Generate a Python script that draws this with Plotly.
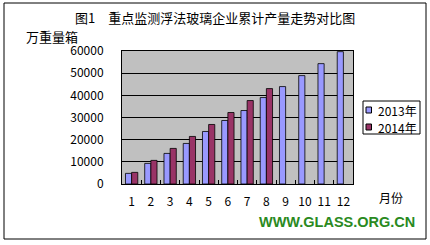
import plotly.graph_objects as go

months = [str(i) for i in range(1, 13)]
y2013 = [4800, 9300, 13800, 18300, 23700, 28650, 33150, 39000, 43950, 48900, 54300, 59700]
y2014 = [5250, 10650, 16050, 21450, 26850, 32250, 37650, 43050]
yticks = [0, 10000, 20000, 30000, 40000, 50000, 60000]
series_names = ["2013年", "2014年"]
series_colors = ["#9999FF", "#993366"]

L, R, T, B = 122, 77, 51, 61
W, H = 430, 245
pw, ph = W - L - R, H - T - B

def px(x):
    return (x - L) / pw

def py(y):
    return (H - B - y) / ph

font = "SimSun, Noto Sans CJK SC, sans-serif"

fig = go.Figure()
fig.add_bar(x=months, y=y2013, name=series_names[0], showlegend=False,
            marker=dict(color=series_colors[0], line=dict(color="black", width=0.8)))
fig.add_bar(x=months[:len(y2014)], y=y2014, name=series_names[1], showlegend=False,
            marker=dict(color=series_colors[1], line=dict(color="black", width=0.8)))

shapes = [dict(type="rect", xref="paper", yref="paper", x0=px(4), x1=px(426), y0=py(239), y1=py(3),
               line=dict(color="black", width=1), layer="below"),
          dict(type="rect", xref="paper", yref="paper", x0=px(363), x1=px(420), y0=py(134), y1=py(101),
               line=dict(color="black", width=1), fillcolor="white")]
annotations = [
    dict(text="图1　重点监测浮法玻璃企业累计产量走势对比图", xref="paper", yref="paper",
         x=px(215), y=py(18), xanchor="center", yanchor="middle", showarrow=False, font=dict(size=13)),
    dict(text="万重量箱", xref="paper", yref="paper", x=px(24), y=py(36), xanchor="left", yanchor="middle",
         showarrow=False, font=dict(size=13)),
    dict(text="月份", xref="paper", yref="paper", x=px(391), y=py(198), xanchor="center", yanchor="middle",
         showarrow=False, font=dict(size=12)),
    dict(text="<b>WWW.GLASS.ORG.CN</b>", xref="paper", yref="paper", x=px(337), y=py(222),
         xanchor="center", yanchor="middle", showarrow=False,
         font=dict(family="Arial Black, Liberation Sans, sans-serif", size=14.5, color="#2A8A1E")),
]
for i, (name, color) in enumerate(zip(series_names, series_colors)):
    cy = 110 + 17 * i
    shapes.append(dict(type="rect", xref="paper", yref="paper", x0=px(366), x1=px(371.5),
                       y0=py(cy + 3), y1=py(cy - 3), fillcolor=color, line=dict(color="black", width=1)))
    annotations.append(dict(text=name, xref="paper", yref="paper", x=px(376), y=py(cy),
                            xanchor="left", yanchor="middle", showarrow=False, font=dict(size=12)))

fig.update_layout(
    width=W, height=H,
    margin=dict(l=L, r=R, t=T, b=B, autoexpand=False),
    paper_bgcolor="white", plot_bgcolor="#C0C0C0",
    barmode="group", bargap=0.36, bargroupgap=0,
    font=dict(family=font, size=11, color="black"),
    showlegend=False,
    xaxis=dict(type="category", categoryarray=months, showline=True, linecolor="black", linewidth=1,
               ticks="inside", tickson="boundaries", ticklen=4, tickcolor="black",
               tickangle=0, tickfont=dict(size=12), showgrid=False, mirror=True,
               ticklabelstandoff=7),
    yaxis=dict(range=[0, 60000], tickvals=yticks, ticktext=[str(v) for v in yticks],
               showline=True, linecolor="black",
               gridcolor="black", gridwidth=1, ticks="", tickfont=dict(size=12),
               zeroline=False, mirror=True, ticklabelstandoff=15),
    shapes=shapes,
    annotations=annotations,
)
fig.write_html("out.html")
